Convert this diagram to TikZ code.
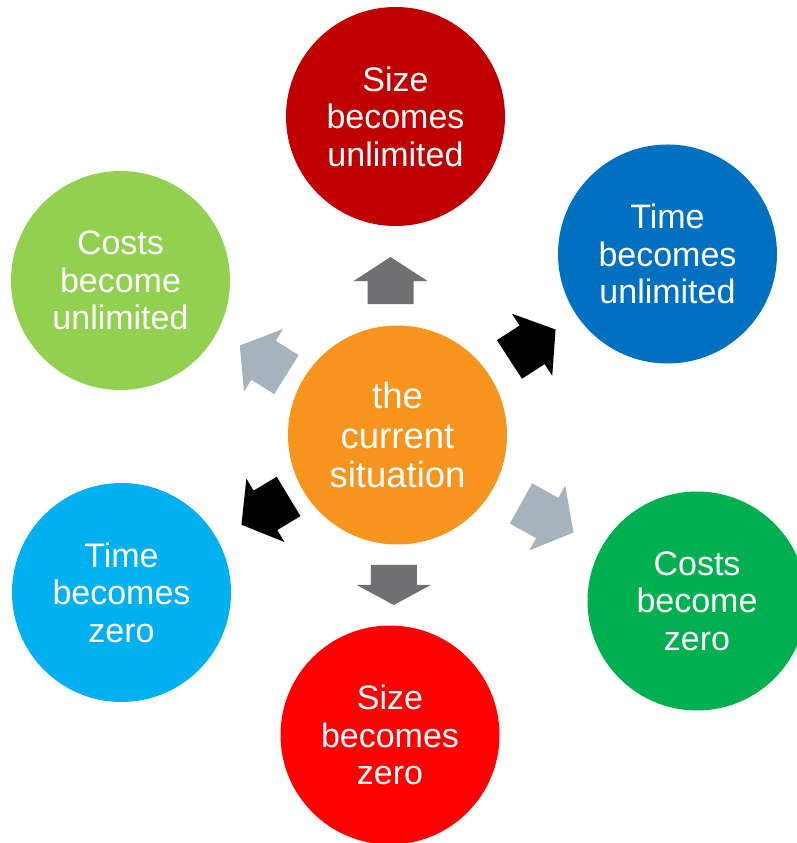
\documentclass[tikz,border=0pt]{standalone}
\usepackage{fontspec}
\setmainfont{Liberation Sans}
\usetikzlibrary{calc}
\definecolor{situorange}{RGB}{247,148,29}
\definecolor{sizeunlred}{RGB}{192,0,0}
\definecolor{timeunlblue}{RGB}{0,112,192}
\definecolor{costzerogreen}{RGB}{0,176,80}
\definecolor{sizezerored}{RGB}{255,0,0}
\definecolor{timezeroblue}{RGB}{0,176,240}
\definecolor{costunlgreen}{RGB}{146,208,80}
\definecolor{arrowdark}{RGB}{112,112,114}
\definecolor{arrowlight}{RGB}{166,179,188}
\tikzset{
    bubble/.style={circle, inner sep=0pt, minimum size=219pt, text=white, align=center,
        font=\fontsize{34}{37.5}\selectfont},
    pics/blockarrow/.style n args={2}{code={% #1 length, #2 head length
        \fill (-#1/2,-23) -- (#1/2-#2,-23) -- (#1/2-#2,-37) -- (#1/2,0)
              -- (#1/2-#2,37) -- (#1/2-#2,23) -- (-#1/2,23) -- cycle;}}
}

\begin{document}
\begin{tikzpicture}[x=1pt,y=1pt]
\clip (0,0) rectangle (797,843);

%circles
\node[bubble, fill=situorange, font=\fontsize{36.5}{39.5}\selectfont] (situation) at (397.5,408) {the\\current\\situation};
\node[bubble, fill=sizeunlred] (sizeunl) at (395.5,726.5) {Size\\becomes\\unlimited};
\node[bubble, fill=timeunlblue] (timeunl) at (667.5,589) {Time\\becomes\\unlimited};
\node[bubble, fill=costzerogreen] (costzero) at (697,242) {Costs\\become\\zero};
\node[bubble, fill=sizezerored] (sizezero) at (390,108) {Size\\becomes\\zero};
\node[bubble, fill=timezeroblue] (timezero) at (121.5,250.5) {Time\\becomes\\zero};
\node[bubble, fill=costunlgreen] (costunl) at (120.5,562.5) {Costs\\become\\unlimited};

%arrows
\pic[color=arrowdark, rotate=90] at ($(situation)!0.485!(sizeunl)+(-6,0)$) {blockarrow={47}{24}};
\pic[color=black, rotate=33] at ($(situation)!0.5!(timeunl)$) {blockarrow={55}{28}};
\pic[color=arrowlight, rotate=-29] at ($(situation)!0.5!(costzero)$) {blockarrow={60}{30}};
\pic[color=arrowdark, rotate=-90] at ($(situation)!0.5!(sizezero)$) {blockarrow={40}{20}};
\pic[color=black, rotate=211] at ($(situation)!0.48!(timezero)$) {blockarrow={55}{28}};
\pic[color=arrowlight, rotate=148] at ($(situation)!0.485!(costunl)$) {blockarrow={55}{28}};
\end{tikzpicture}
\end{document}
